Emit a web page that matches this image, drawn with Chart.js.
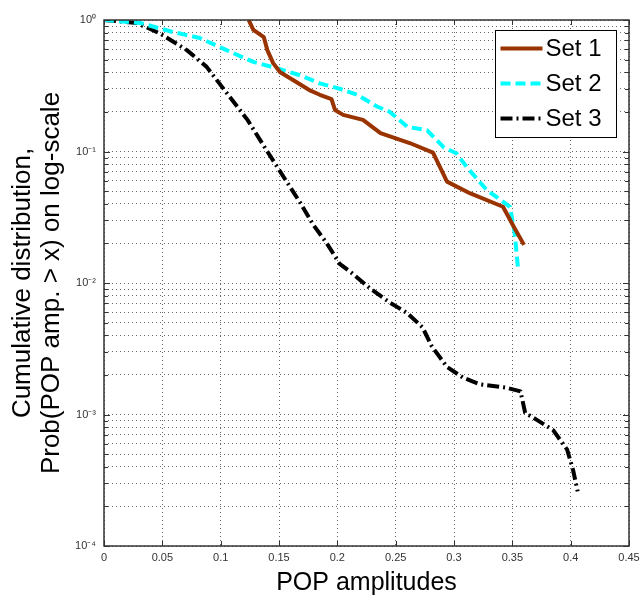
<!DOCTYPE html>
<html>
<head>
<meta charset="utf-8">
<script src="https://cdn.jsdelivr.net/npm/chart.js@4.4.1/dist/chart.umd.min.js"></script>
<style>
  html, body { margin: 0; padding: 0; background: #fff; }
</style>
</head>
<body>
<canvas id="graph" width="640" height="598"></canvas>
<script>
// values
const set1X = [0.124, 0.128, 0.137, 0.140, 0.145, 0.151, 0.162, 0.177, 0.185, 0.195, 0.198, 0.205, 0.222, 0.237, 0.262, 0.282, 0.294, 0.314, 0.342, 0.351, 0.360];
const set1Y = [1, 0.84, 0.74, 0.59, 0.47, 0.40, 0.35, 0.29, 0.27, 0.25, 0.207, 0.19, 0.174, 0.138, 0.116, 0.098, 0.059, 0.048, 0.038, 0.027, 0.0195];

const set2X = [0, 0.031, 0.059, 0.082, 0.105, 0.128, 0.148, 0.168, 0.185, 0.202, 0.217, 0.234, 0.245, 0.260, 0.277, 0.291, 0.302, 0.311, 0.328, 0.348, 0.352, 0.355];
const set2Y = [1, 0.95, 0.81, 0.73, 0.59, 0.48, 0.43, 0.38, 0.33, 0.30, 0.27, 0.22, 0.20, 0.154, 0.145, 0.108, 0.097, 0.076, 0.051, 0.038, 0.024, 0.0126];

const set3X = [0, 0.028, 0.048, 0.071, 0.088, 0.105, 0.123, 0.140, 0.154, 0.168, 0.179, 0.191, 0.202, 0.213, 0.228, 0.245, 0.260, 0.273, 0.281, 0.294, 0.308, 0.322, 0.345, 0.357, 0.361, 0.371, 0.385, 0.397, 0.402, 0.406];
const set3Y = [1, 0.95, 0.79, 0.59, 0.44, 0.28, 0.174, 0.10, 0.064, 0.041, 0.028, 0.020, 0.014, 0.0118, 0.0091, 0.0071, 0.0059, 0.0046, 0.0033, 0.0023, 0.0019, 0.0017, 0.0016, 0.0015, 0.00103, 0.00091, 0.00076, 0.00054, 0.00038, 0.00026];

const seriesNames = ['Set 1', 'Set 2', 'Set 3'];

const xTicks = [0, 0.05, 0.1, 0.15, 0.2, 0.25, 0.3, 0.35, 0.4, 0.45];
const xTickLabels = ['0', '0.05', '0.1', '0.15', '0.2', '0.25', '0.3', '0.35', '0.4', '0.45'];

const yDecades = [1e-4, 1e-3, 1e-2, 1e-1, 1];
const yTickLabels = ['10\u207B\u2074', '10\u207B\u00B3', '10\u207B\u00B2', '10\u207B\u00B9', '10\u2070'];
const yMantissas = [1, 2, 3, 4, 5, 6, 7, 8, 9];

const FONT = "'Liberation Sans', Arial, Helvetica, sans-serif";
Chart.defaults.font.family = FONT;

function points(xs, ys) {
    return xs.map((x, i) => ({ x: x, y: ys[i] }));
}

// 1..9 x 10^n grid ticks for the log axis
const yTicks = [];
yDecades.forEach((d, i) => {
    if (i === yDecades.length - 1) {
        yTicks.push(d);
        return;
    }
    yMantissas.forEach(m => yTicks.push(+(m * d).toPrecision(3)));
});

// box around the plot + inward tick marks (matlab style)
const frame = {
    id: 'frame',
    afterDatasetsDraw(chart) {
        const { ctx, chartArea: a, scales } = chart;
        ctx.save();
        ctx.strokeStyle = '#333';
        ctx.lineWidth = 1;
        ctx.setLineDash([]);
        ctx.beginPath();
        xTicks.forEach(v => {
            const px = Math.round(scales.x.getPixelForValue(v)) + 0.5;
            ctx.moveTo(px, a.bottom); ctx.lineTo(px, a.bottom - 5);
            ctx.moveTo(px, a.top); ctx.lineTo(px, a.top + 5);
        });
        yTicks.forEach(v => {
            const py = Math.round(scales.y.getPixelForValue(v)) + 0.5;
            const len = yDecades.includes(v) ? 6 : 4;
            ctx.moveTo(a.left, py); ctx.lineTo(a.left + len, py);
            ctx.moveTo(a.right, py); ctx.lineTo(a.right - len, py);
        });
        ctx.stroke();
        ctx.lineWidth = 1.5;
        ctx.strokeRect(a.left, a.top, a.right - a.left, a.bottom - a.top);
        ctx.restore();
    },
    afterDraw(chart) {
        const { ctx, chartArea: a } = chart;
        const bx = a.right - 133.5, by = a.top + 10.5, bw = 121, bh = 107;
        ctx.save();
        ctx.fillStyle = '#fff';
        ctx.fillRect(bx, by, bw, bh);
        ctx.strokeStyle = '#000';
        ctx.lineWidth = 1;
        ctx.strokeRect(bx, by, bw, bh);
        chart.data.datasets.forEach((ds, i) => {
            const y = by + 18 + i * 35;
            ctx.beginPath();
            ctx.strokeStyle = ds.borderColor;
            ctx.lineWidth = ds.borderWidth;
            ctx.setLineDash(ds.borderDash || []);
            ctx.moveTo(bx + 5, y);
            ctx.lineTo(bx + 47, y);
            ctx.stroke();
            ctx.setLineDash([]);
            ctx.fillStyle = '#000';
            ctx.font = '24px ' + FONT;
            ctx.textBaseline = 'middle';
            ctx.fillText(ds.label, bx + 50, y + 1);
        });
        ctx.restore();
    }
};

const config = {
    type: 'line',
    data: {
        datasets: [{
            label: seriesNames[0],
            data: points(set1X, set1Y),
            borderColor: '#993300',
            borderWidth: 4,
        }, {
            label: seriesNames[1],
            data: points(set2X, set2Y),
            borderColor: '#00ffff',
            borderWidth: 4,
            borderDash: [10, 5],
        }, {
            label: seriesNames[2],
            data: points(set3X, set3Y),
            borderColor: '#000000',
            borderWidth: 4,
            borderDash: [12, 4, 2, 4],
        }]
    },
    options: {
        responsive: false,
        animation: false,
        devicePixelRatio: 1,
        layout: { padding: { top: 20, right: 11, left: 0, bottom: 0 } },
        elements: {
            point: { radius: 0 },
            line: { tension: 0, borderCapStyle: 'butt', borderJoinStyle: 'round' }
        },
        plugins: {
            legend: { display: false },
            tooltip: { enabled: false }
        },
        scales: {
            x: {
                type: 'linear',
                min: 0,
                max: 0.45,
                afterBuildTicks: s => { s.ticks = xTicks.map(v => ({ value: v })); },
                afterFit: s => { s.height = 52; s.paddingLeft = 0; s.paddingRight = 0; },
                ticks: {
                    autoSkip: false,
                    maxRotation: 0,
                    padding: 5,
                    color: '#333',
                    font: { size: 11 },
                    callback: (v, i) => xTickLabels[i]
                },
                grid: { color: '#666', lineWidth: 1, drawTicks: false },
                border: { display: false, dash: [1, 3] },
                title: {
                    display: true,
                    text: 'POP amplitudes',
                    color: '#000',
                    font: { size: 25, lineHeight: 1.2 },
                    padding: { top: 0, bottom: 0 }
                }
            },
            y: {
                type: 'logarithmic',
                min: 1e-4,
                max: 1,
                afterBuildTicks: s => { s.ticks = yTicks.map(v => ({ value: v })); },
                afterFit: s => { s.width = 104; },
                ticks: {
                    autoSkip: false,
                    padding: 8,
                    color: '#333',
                    font: { size: 11 },
                    callback: v => {
                        const k = yDecades.indexOf(v);
                        return k >= 0 ? yTickLabels[k] : '';
                    }
                },
                grid: { color: '#666', lineWidth: 1, drawTicks: false },
                border: { display: false, dash: [1, 3] },
                title: {
                    display: true,
                    text: ['Cumulative distribution,', 'Prob(POP amp. > x) on log-scale'],
                    color: '#000',
                    font: { size: 26, lineHeight: 1.1 },
                    padding: { top: 9, bottom: 0 }
                }
            }
        }
    },
    plugins: [frame]
};

const chart = new Chart(document.getElementById('graph'), config);
</script>
</body>
</html>
